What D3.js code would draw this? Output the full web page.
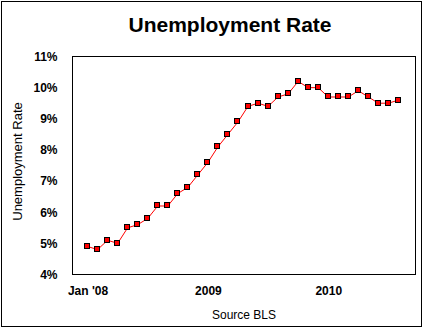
<!DOCTYPE html>
<html>
<head>
<meta charset="utf-8">
<script src="https://cdn.jsdelivr.net/npm/d3@7"></script>
<style>
  body { margin: 0; background: #fff; }
  svg { display: block; font-family: "Liberation Sans", Arial, sans-serif; }
  .ytick text, .xtick text { font-weight: bold; }
</style>
</head>
<body>
<svg width="425" height="331"></svg>
<script>
// monthly data Jan 2008 .. Aug 2010
var months = d3.range(32)
var rates = [4.9, 4.8, 5.1, 5.0, 5.5, 5.6, 5.8, 6.2, 6.2, 6.6, 6.8, 7.2,
             7.6, 8.1, 8.5, 8.9, 9.4, 9.5, 9.4, 9.7, 9.8, 10.2, 10.0, 10.0,
             9.7, 9.7, 9.7, 9.9, 9.7, 9.5, 9.5, 9.6]
var yTicks = [4, 5, 6, 7, 8, 9, 10, 11]
var xTickIdx = [0, 12, 24]
var xTickLabels = ["Jan '08", "2009", "2010"]

var margin = { top: 56.5, right: 9.5, bottom: 56.5, left: 72.5 },
    width = 425 - margin.left - margin.right,
    height = 331 - margin.top - margin.bottom

var svg = d3.select("svg")

// outer border
svg.append("rect")
    .attr("x", 1.5).attr("y", 1.5)
    .attr("width", 420).attr("height", 325)
    .attr("fill", "#fff").attr("stroke", "#000").attr("stroke-width", 1)

svg.append("text")
    .attr("x", 230).attr("y", 32)
    .attr("text-anchor", "middle")
    .style("font-size", "21px").style("font-weight", "bold")
    .text("Unemployment Rate")

var g = svg.append("g").attr("transform", "translate(" + margin.left + "," + margin.top + ")")

var xScale = d3.scaleLinear().domain([-1.5, 32.7]).range([0, width])
var yScale = d3.scaleLinear().domain([4, 11]).range([height, 0])

// y axis labels
var yAxis = g.append("g").attr("class", "ytick")
    .call(d3.axisLeft(yScale).tickValues(yTicks).tickSize(0).tickPadding(15)
        .tickFormat(function (d) { return d + "%" }))
yAxis.select(".domain").remove()
yAxis.selectAll("text").style("font-size", "12px").attr("fill", "#000")

// x axis labels
var xAxis = g.append("g").attr("class", "xtick")
    .attr("transform", "translate(0," + height + ")")
    .call(d3.axisBottom(xScale).tickValues(xTickIdx).tickSize(0).tickPadding(12)
        .tickFormat(function (d, i) { return xTickLabels[i] }))
xAxis.select(".domain").remove()
xAxis.selectAll("text").style("font-size", "12px").attr("fill", "#000")

// plot frame
g.append("rect")
    .attr("width", width).attr("height", height)
    .attr("fill", "none").attr("stroke", "#000").attr("stroke-width", 1)

// line
var line = d3.line()
    .x(function (d, i) { return xScale(months[i]) })
    .y(function (d) { return yScale(d) })
g.append("path").datum(rates)
    .attr("d", line)
    .attr("fill", "none").attr("stroke", "#ff0000").attr("stroke-width", 1)

// markers
g.selectAll(".pt").data(rates).enter().append("rect")
    .attr("class", "pt")
    .attr("x", function (d, i) { return Math.round(xScale(months[i])) - 3 })
    .attr("y", function (d) { return Math.round(yScale(d)) - 3 })
    .attr("width", 5).attr("height", 5)
    .attr("fill", "#ff0000").attr("stroke", "#000").attr("stroke-width", 1)

// axis titles
svg.append("text")
    .attr("transform", "translate(22," + (margin.top + height / 2 - 4) + ") rotate(-90)")
    .attr("text-anchor", "middle")
    .style("font-size", "13px")
    .text("Unemployment Rate")

svg.append("text")
    .attr("x", margin.left + width / 2).attr("y", 319)
    .attr("text-anchor", "middle")
    .style("font-size", "12px")
    .text("Source BLS")
</script>
</body>
</html>
